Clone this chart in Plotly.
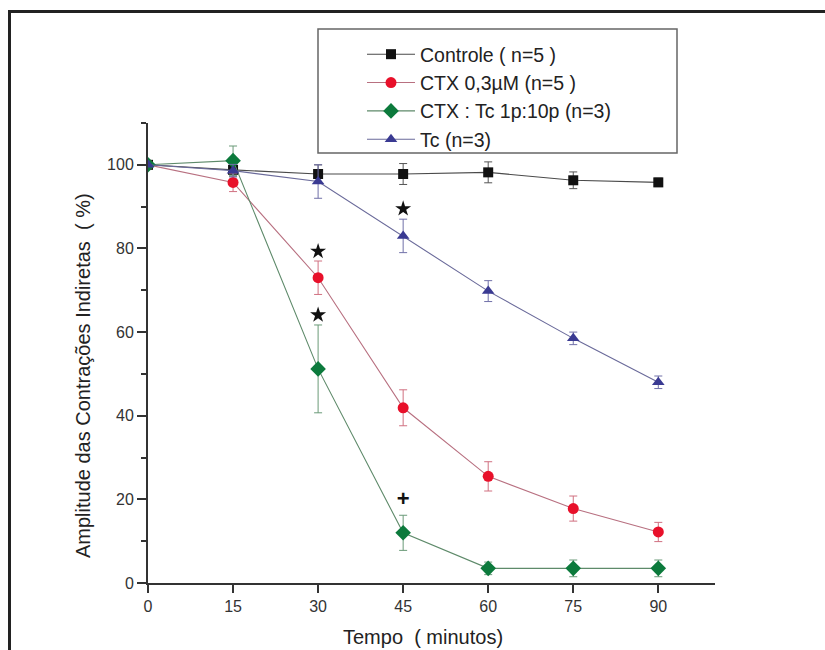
import plotly.graph_objects as go

tempo = [0, 15, 30, 45, 60, 75, 90]

controle = [100, 98.8, 97.8, 97.8, 98.2, 96.3, 95.8]
controle_err = [0, 1.5, 2.2, 2.5, 2.5, 2.0, 1.0]

ctx = [100, 95.8, 73.0, 41.9, 25.5, 17.8, 12.2]
ctx_err = [0, 2.2, 4.0, 4.3, 3.5, 3.0, 2.3]

ctx_tc = [100, 101.0, 51.2, 12.0, 3.5, 3.5, 3.5]
ctx_tc_err = [0, 3.5, 10.5, 4.2, 1.5, 2.0, 2.0]

tc = [100, 98.6, 96.0, 83.0, 69.8, 58.5, 48.0]
tc_err = [0, 1.5, 4.0, 4.0, 2.5, 1.5, 1.5]

names = ["Controle ( n=5 )", "CTX 0,3µM (n=5 )", "CTX : Tc 1p:10p (n=3)", "Tc (n=3)"]

star_x = [30, 30, 45]
star_y = [79.3, 64.1, 89.5]
plus_x = [45]
plus_y = [19.7]

x_ticks = [0, 15, 30, 45, 60, 75, 90]
y_ticks = [0, 20, 40, 60, 80, 100]

FONT = "Arial, Liberation Sans, sans-serif"

series = [
    (controle, controle_err, names[0], "square", 10, "#111111", "#4a4a4a", "#555555"),
    (ctx, ctx_err, names[1], "circle", 11, "#e8102a", "#b87080", "#d07080"),
    (ctx_tc, ctx_tc_err, names[2], "diamond", 12, "#0c7a3c", "#5e8a6a", "#6a9a78"),
    (tc, tc_err, names[3], "triangle-up", 11, "#3a3a92", "#6a6a9a", "#7070a8"),
]

fig = go.Figure()
for y, err, name, sym, size, mcol, lcol, ecol in series:
    fig.add_trace(go.Scatter(
        x=tempo, y=y, name=name, mode="lines+markers",
        line=dict(color=lcol, width=1.1),
        marker=dict(symbol=sym, size=size, color=mcol, line=dict(width=0)),
        error_y=dict(type="data", array=err, visible=True, color=ecol, thickness=1, width=4),
    ))

fig.add_trace(go.Scatter(
    x=star_x, y=star_y, mode="markers", showlegend=False,
    marker=dict(symbol="star", size=12, color="#111111", line=dict(width=0)),
))
fig.add_trace(go.Scatter(
    x=plus_x, y=plus_y, mode="text", text=["<b>+</b>"], showlegend=False,
    textfont=dict(family=FONT, size=22, color="#111111"),
    textposition="middle center",
))

L, R, T, B = 148, 110, 123, 67
W, H = 825, 650
pw, ph = W - L - R, H - T - B

def px(x):
    return (x - L) / pw

def py(y):
    return 1 + (T - y) / ph

fig.update_layout(
    width=W, height=H,
    margin=dict(l=L, r=R, t=T, b=B, pad=0),
    paper_bgcolor="white", plot_bgcolor="white",
    font=dict(family=FONT, color="#222222"),
    xaxis=dict(
        range=[0, 100], tickvals=x_ticks, ticktext=[str(v) for v in x_ticks],
        showgrid=False, zeroline=False, showline=True, linecolor="#333333", linewidth=2,
        ticks="outside", ticklen=8, tickwidth=1.5, tickcolor="#333333",
        tickfont=dict(size=16, color="#333333"),
    ),
    yaxis=dict(
        range=[0, 110], tickvals=y_ticks, ticktext=[str(v) for v in y_ticks],
        showgrid=False, zeroline=False, showline=True, linecolor="#333333", linewidth=2,
        ticks="outside", ticklen=9, tickwidth=1.5, tickcolor="#333333",
        tickfont=dict(size=16, color="#333333"),
        minor=dict(tickvals=[10, 30, 50, 70, 90, 110], ticks="outside", ticklen=5,
                   tickwidth=1.5, tickcolor="#333333"),
    ),
    showlegend=True,
    legend=dict(
        x=px(362), y=py(35), xanchor="left", yanchor="top",
        bgcolor="rgba(0,0,0,0)", borderwidth=0,
        font=dict(family=FONT, size=19.5, color="#222222"),
        itemwidth=48, tracegroupgap=0,
    ),
    shapes=[
        dict(type="rect", xref="paper", yref="paper",
             x0=px(9.5), x1=px(W + 10), y0=py(11.5), y1=py(H + 10),
             line=dict(color="#222222", width=3), fillcolor="rgba(0,0,0,0)", layer="below"),
        dict(type="rect", xref="paper", yref="paper",
             x0=px(318), x1=px(677), y0=py(153), y1=py(29),
             line=dict(color="#666666", width=1.5), fillcolor="white", layer="below"),
    ],
    annotations=[
        dict(text="Tempo  ( minutos)", xref="paper", yref="paper",
             x=px(423), y=py(637), xanchor="center", yanchor="middle", showarrow=False,
             font=dict(family=FONT, size=20, color="#222222")),
        dict(text="Amplitude das Contrações Indiretas  ( %)", xref="paper", yref="paper",
             x=px(83), y=py(376), xanchor="center", yanchor="middle", showarrow=False,
             textangle=-90, font=dict(family=FONT, size=20, color="#222222")),
    ],
)

fig.write_html("out.html")
